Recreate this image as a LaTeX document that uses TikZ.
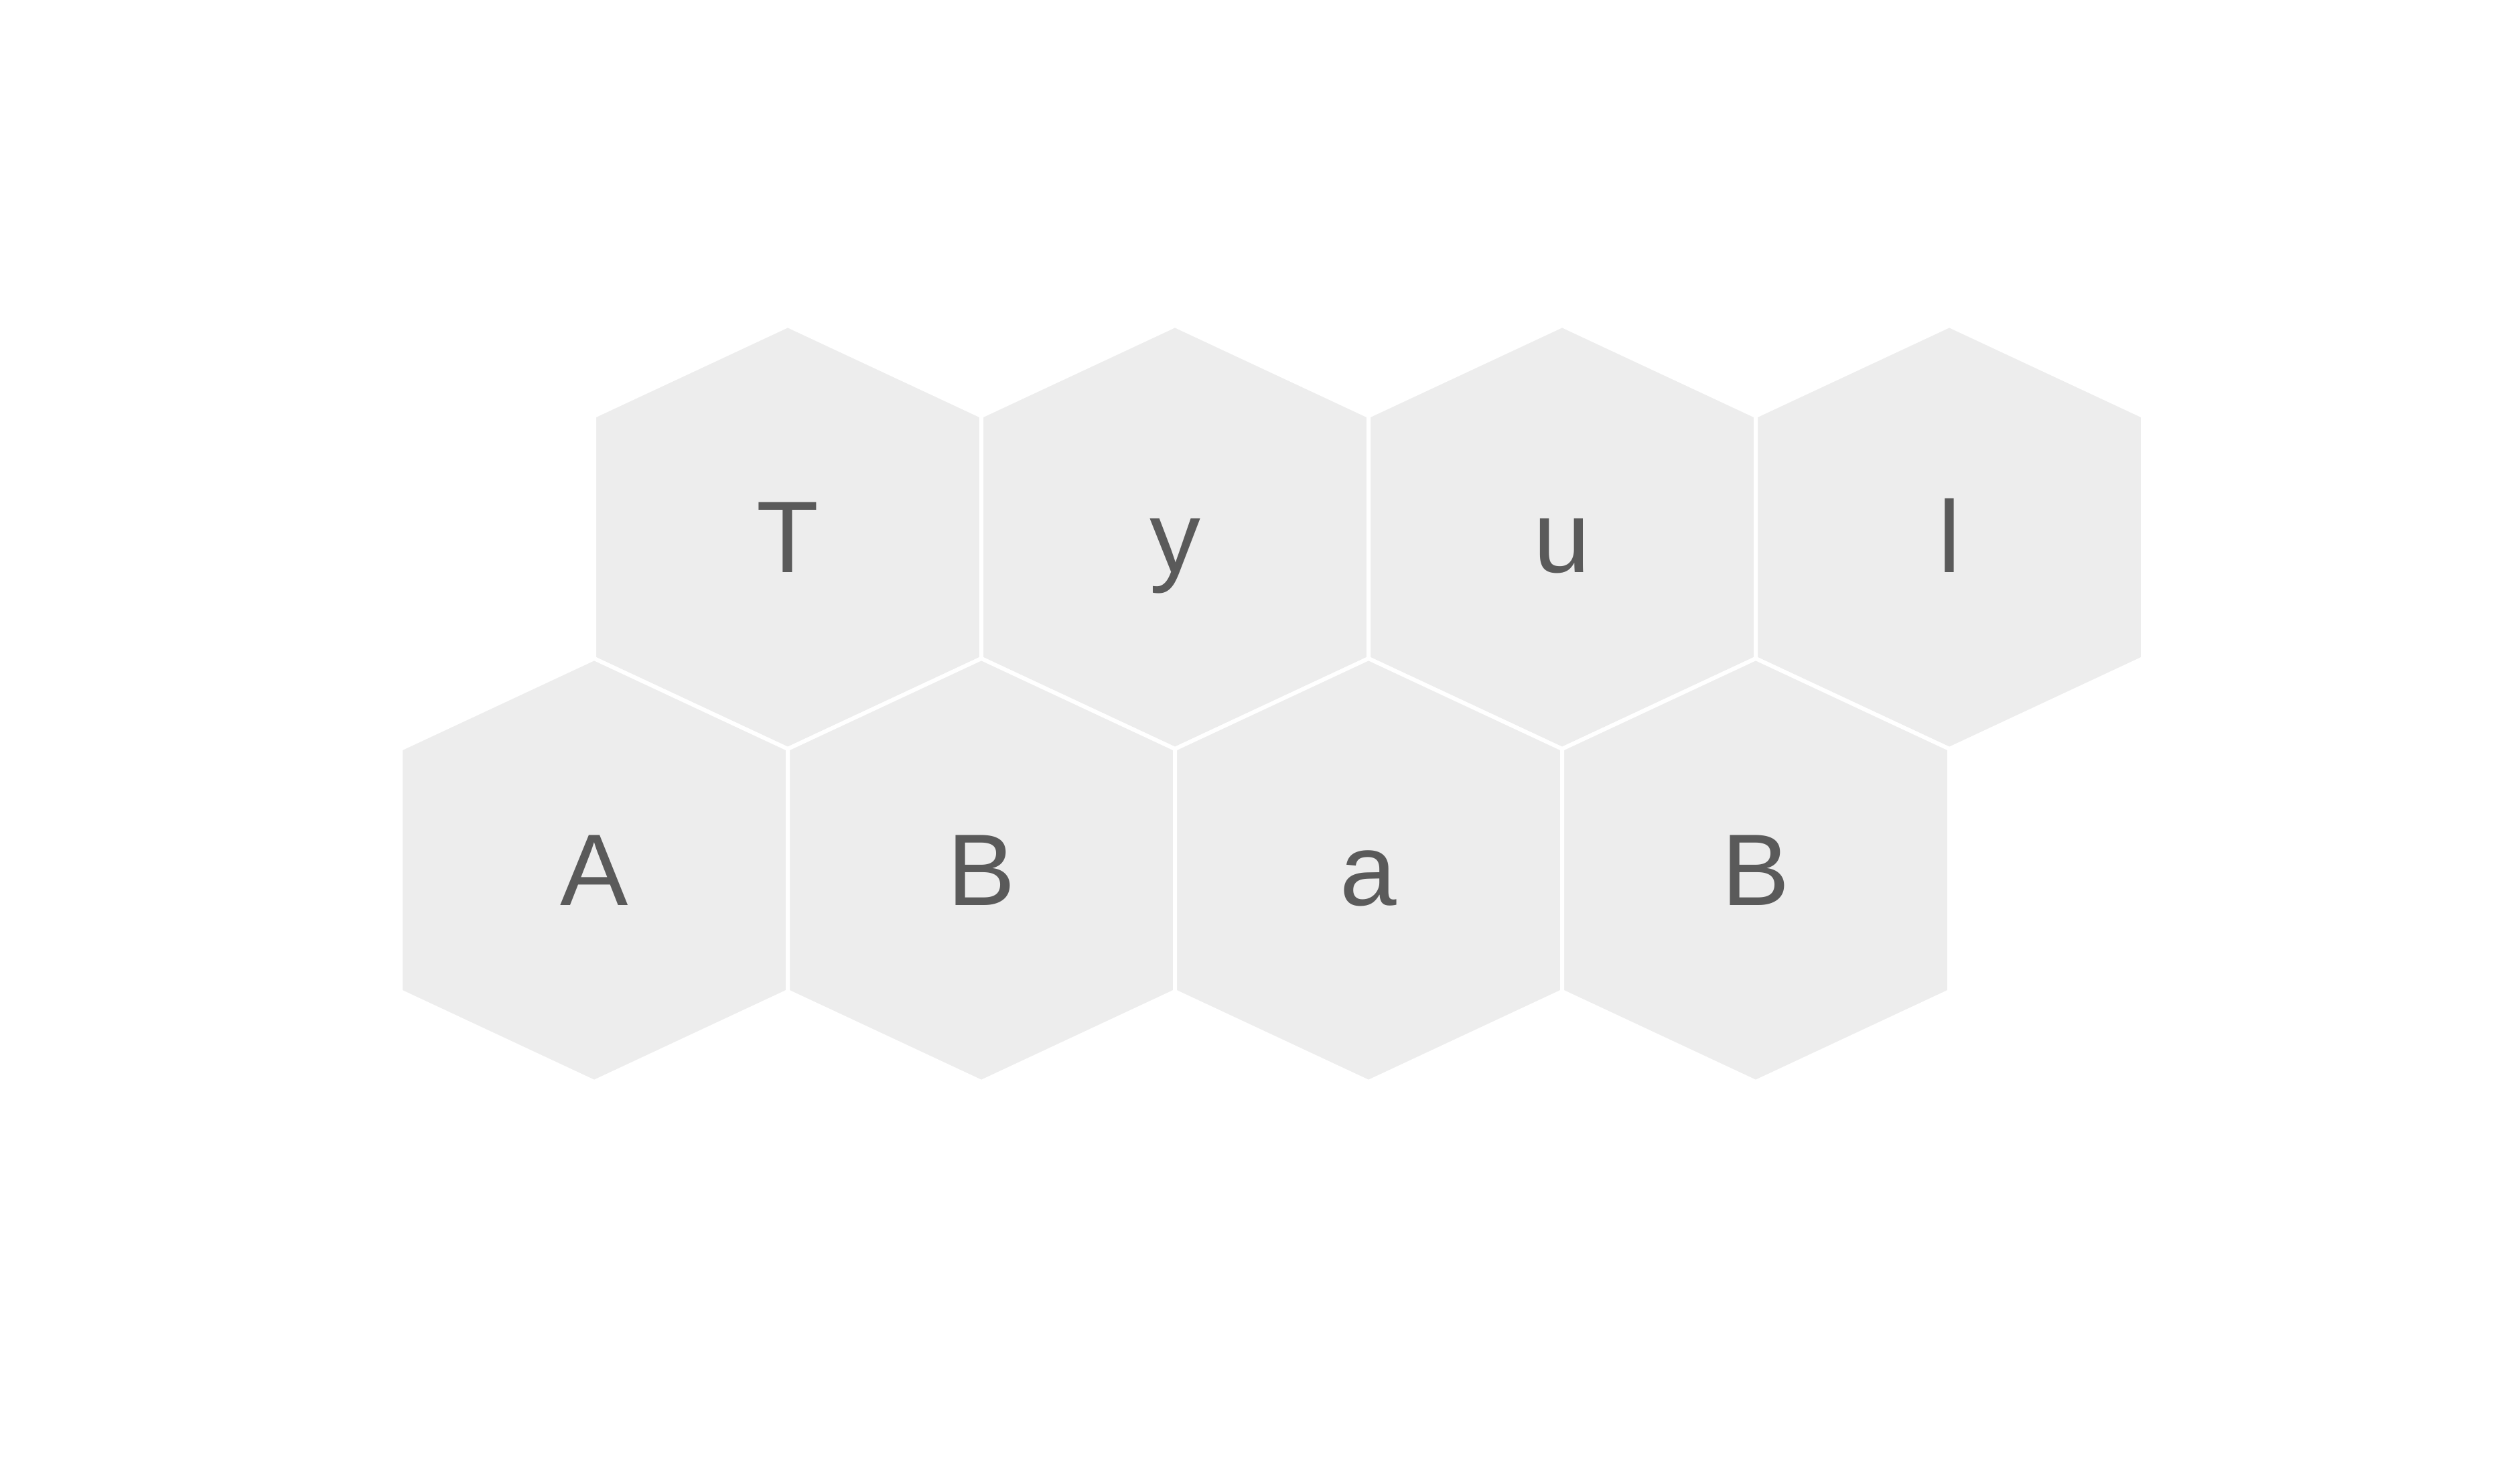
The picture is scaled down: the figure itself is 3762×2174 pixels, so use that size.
\documentclass[tikz,border=0pt]{standalone}
\usepackage{fontspec}
\setmainfont{Liberation Sans}
\definecolor{hexfill}{HTML}{EDEDED}
\definecolor{hextext}{HTML}{5A5A5A}
\begin{document}
\begin{tikzpicture}[x=0.5pt,y=-0.5pt,
  hexcell/.style={fill=hexfill,draw=white,line width=3pt,line join=miter},
  hexlabel/.style={text=hextext,font=\fontsize{76}{84}\selectfont,anchor=base,inner sep=0pt}]
\useasboundingbox (0,0) rectangle (3762,2174);
\foreach \cx/\cy/\t/\n in {1176/802/T/t1,1754/802/y/t2,2332/802/u/t3,2910/802/l/t4,
  887/1299/A/b1,1465/1299/B/b2,2043/1299/a/b3,2621/1299/B/b4}{
  \path[hexcell] (\cx,\cy-316) -- (\cx+289,\cy-181) -- (\cx+289,\cy+181) -- (\cx,\cy+316)
    -- (\cx-289,\cy+181) -- (\cx-289,\cy-181) -- cycle;
  \node[hexlabel] (\n) at (\cx,\cy+52) {\t};
}
\end{tikzpicture}
\end{document}
